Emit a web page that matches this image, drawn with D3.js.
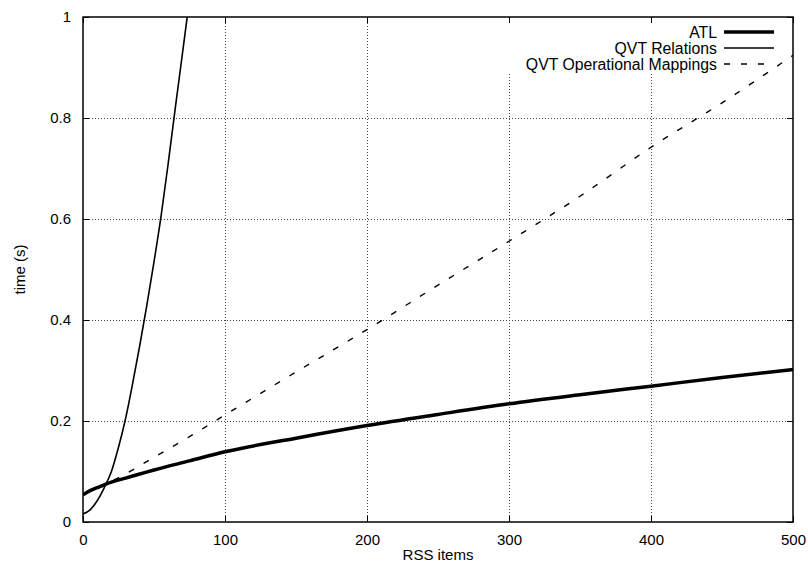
<!DOCTYPE html>
<html>
<head>
<meta charset="utf-8">
<script src="https://cdn.jsdelivr.net/npm/d3@7"></script>
<style>
  html, body { margin: 0; padding: 0; background: #fff; }
  svg { display: block; }
  text { font-family: "Liberation Sans", Arial, sans-serif; fill: #000; }
</style>
</head>
<body>
<script>
// ---- data ----
const xTicks = [0, 100, 200, 300, 400, 500];
const yTicks = [0, 0.2, 0.4, 0.6, 0.8, 1];
const yTickLabels = ["0", "0.2", "0.4", "0.6", "0.8", "1"];
const seriesNames = ["ATL", "QVT Relations", "QVT Operational Mappings"];

const atlX = [0, 5, 10, 20, 30, 40, 50, 75, 100, 150, 200, 250, 300, 350, 400, 450, 500];
const atlY = [0.054, 0.062, 0.068, 0.079, 0.087, 0.095, 0.103, 0.121, 0.139, 0.166, 0.191, 0.213, 0.234, 0.252, 0.269, 0.286, 0.302];

const relX = [0, 5, 10, 15, 20, 25, 30, 35, 40, 45, 50, 55, 60, 65, 70, 75];
const relY = [0.016, 0.024, 0.042, 0.068, 0.100, 0.148, 0.205, 0.275, 0.350, 0.430, 0.515, 0.606, 0.710, 0.820, 0.927, 1.035];

const omX = [0, 10, 23, 50, 75, 100, 150, 200, 250, 300, 350, 400, 450, 500];
const omY = [0.055, 0.068, 0.085, 0.128, 0.169, 0.212, 0.297, 0.381, 0.469, 0.556, 0.645, 0.742, 0.830, 0.924];

// ---- layout ----
const W = 808, H = 569;
const L = 83, T = 17, R = 793, B = 522;

const svg = d3.select("body").append("svg").attr("width", W).attr("height", H);

const x = d3.scaleLinear().domain([0, 500]).range([L, R]);
const y = d3.scaleLinear().domain([0, 1]).range([B, T]);

svg.append("defs").append("clipPath").attr("id", "plotclip")
  .append("rect").attr("x", L).attr("y", T).attr("width", R - L).attr("height", B - T);

// grid
const grid = svg.append("g");
grid.selectAll("line.gx").data(xTicks.filter(d => d > 0 && d < 500)).join("line")
  .attr("x1", d => x(d) + 0.5).attr("x2", d => x(d) + 0.5)
  .attr("y1", B).attr("y2", T)
  .attr("stroke", "#444").attr("stroke-width", 1).attr("stroke-dasharray", "1,2");
grid.selectAll("line.gy").data(yTicks.filter(d => d > 0 && d < 1)).join("line")
  .attr("x1", L).attr("x2", R)
  .attr("y1", d => y(d) + 0.5).attr("y2", d => y(d) + 0.5)
  .attr("stroke", "#444").attr("stroke-width", 1).attr("stroke-dasharray", "1,2");

// legend background (hides grid behind key)
svg.append("rect").attr("x", 500).attr("y", T + 6).attr("width", R - 500 - 1).attr("height", 49).attr("fill", "#fff");

// axes with inward ticks (mirrored)
const tk = 6;
const axB = d3.axisBottom(x).tickValues(xTicks).tickSize(-tk).tickPadding(12).tickFormat(d3.format("d"));
const axT = d3.axisTop(x).tickValues(xTicks).tickSize(-tk).tickFormat("");
const axL = d3.axisLeft(y).tickValues(yTicks).tickSize(-tk).tickPadding(12).tickFormat((d, i) => yTickLabels[i]);
const axR = d3.axisRight(y).tickValues(yTicks).tickSize(-tk).tickFormat("");

function styleAxis(g) {
  g.select(".domain").remove();
  g.selectAll(".tick line").attr("stroke", "#000").attr("stroke-width", 1);
  g.selectAll("text").attr("font-size", 15).attr("font-family", "Liberation Sans, Arial, sans-serif");
}
svg.append("g").attr("transform", `translate(0,${B})`).call(axB).call(styleAxis);
svg.append("g").attr("transform", `translate(0,${T})`).call(axT).call(styleAxis);
svg.append("g").attr("transform", `translate(${L},0)`).call(axL).call(styleAxis);
svg.append("g").attr("transform", `translate(${R},0)`).call(axR).call(styleAxis);

// curves
const line = d3.line().x(d => x(d[0])).y(d => y(d[1])).curve(d3.curveMonotoneX);
const curves = svg.append("g").attr("clip-path", "url(#plotclip)");
const series = [
  { name: seriesNames[0], pts: atlX.map((v, i) => [v, atlY[i]]), w: 3.5, dash: null },
  { name: seriesNames[1], pts: relX.map((v, i) => [v, relY[i]]), w: 1.6, dash: null },
  { name: seriesNames[2], pts: omX.map((v, i) => [v, omY[i]]), w: 1.4, dash: "6,11" }
];
series.forEach(s => {
  curves.append("path").attr("d", line(s.pts)).attr("fill", "none")
    .attr("stroke", "#000").attr("stroke-width", s.w)
    .attr("stroke-dasharray", s.dash);
});

// border
svg.append("rect").attr("x", L).attr("y", T).attr("width", R - L).attr("height", B - T)
  .attr("fill", "none").attr("stroke", "#000").attr("stroke-width", 1.5);

// legend
const legY = [32, 48, 64];
const leg = svg.append("g");
series.forEach((s, i) => {
  leg.append("text").attr("x", 717).attr("y", legY[i]).attr("dy", "0.35em")
    .attr("text-anchor", "end").attr("font-size", 15.8).text(s.name);
  leg.append("line").attr("x1", 724).attr("x2", 774).attr("y1", legY[i]).attr("y2", legY[i])
    .attr("stroke", "#000").attr("stroke-width", s.w).attr("stroke-dasharray", s.dash);
});

// axis titles
svg.append("text").attr("x", (L + R) / 2).attr("y", 560).attr("text-anchor", "middle")
  .attr("font-size", 15).text("RSS items");
svg.append("text").attr("transform", `translate(25,${(T + B) / 2}) rotate(-90)`)
  .attr("text-anchor", "middle").attr("font-size", 15).text("time (s)");
</script>
</body>
</html>
